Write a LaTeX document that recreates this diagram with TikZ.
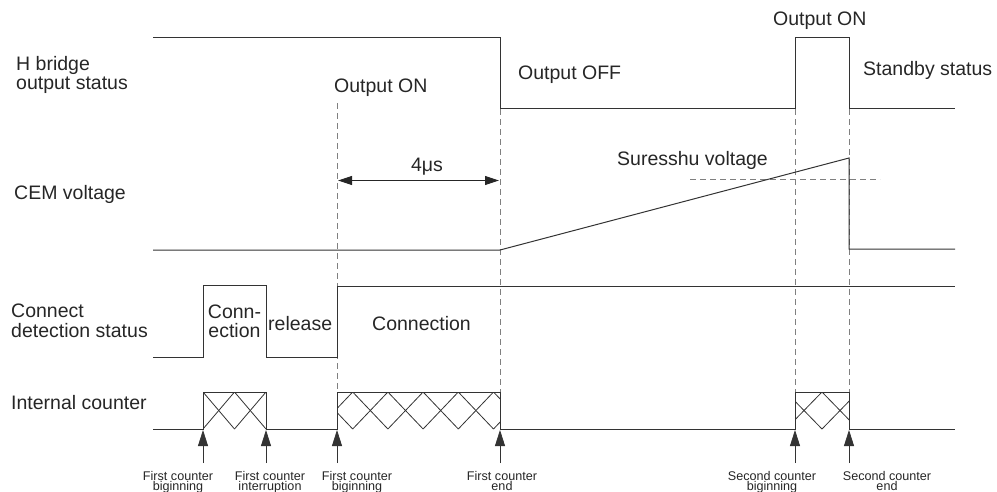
\documentclass[tikz,border=0pt]{standalone}
\usepackage{fontspec}
\setmainfont{Liberation Sans}
\usetikzlibrary{arrows.meta}
\newcommand{\xhatch}[4]{%
  \begin{scope}
    \clip (#1,392) rectangle (#2,429);
    \foreach \k in {-6,...,6}{
      \draw[hatch] ({#3+\k*#4},392) -- ({#3+(\k+1)*#4},429);
      \draw[hatch] ({#3+\k*#4},429) -- ({#3+(\k+1)*#4},392);
    }
  \end{scope}}
\begin{document}
\begin{tikzpicture}[x=1pt,y=-1pt,
  sig/.style={line width=1pt,draw=black!80,line join=miter},
  guide/.style={line width=0.9pt,draw=black!50,dash pattern=on 6pt off 4pt},
  hatch/.style={line width=0.8pt,draw=black!80},
  lbl/.style={inner sep=0pt,anchor=base west,font=\fontsize{19.5}{19.5}\selectfont,text=black!85},
  clbl/.style={lbl,anchor=base},
  small/.style={inner sep=0pt,anchor=north,align=center,font=\fontsize{12.6}{10.5}\selectfont,text=black!85},
  evt/.style={line width=0.8pt,draw=black!80,-{Triangle[length=16pt,width=10pt]}},
  dim/.style={line width=1pt,draw=black!85,{Triangle[length=14pt,width=9pt]}-{Triangle[length=14pt,width=9pt]}}
]
\useasboundingbox (0,0) rectangle (997,491);

% guides (dashed)
\draw[guide] (337,103) -- (337,392);
\draw[guide] (500,109) -- (500,392);
\draw[guide] (795,109) -- (795,392);
\draw[guide] (849,109) -- (849,392);
\draw[guide] (690,179) -- (880,179);

% H bridge output status
\draw[sig] (153,37) -- (500,37) -- (500,108) -- (795,108) -- (795,37) -- (849,37) -- (849,108) -- (955,108);

% CEM voltage
\draw[sig] (153,250) -- (500,250) -- (849,158) -- (849,249) -- (955,249);

% Connect detection status
\draw[sig] (153,357) -- (203,357) -- (203,285) -- (266,285) -- (266,357) -- (337,357) -- (337,286) -- (955,286);

% Internal counter hatching
\xhatch{203}{266}{234.5}{31.5}
\xhatch{337}{500}{352.7}{35.2}
\xhatch{795}{849}{822}{36}
\draw[sig] (153,429) -- (203,429) -- (203,392) -- (266,392) -- (266,429) -- (337,429) -- (337,392) -- (500,392) -- (500,429) -- (795,429) -- (795,392) -- (849,392) -- (849,429) -- (955,429);

% 4 us dimension
\coordinate (d1) at (338,180.5);
\coordinate (d2) at (499,180.5);
\draw[dim] (d1) -- (d2);
\node[clbl] (us) at (427,171) {4μs};

% event arrows
\foreach \n/\x in {e1/203,e2/266,e3/337,e4/500,e5/795,e6/849}{
  \coordinate (\n) at (\x,430);
  \coordinate (\n b) at (\x,463);
  \draw[evt] (\n b) -- (\n);
}

% labels
\node[lbl] (hb1) at (16,70) {H bridge};
\node[lbl] (hb2) at (16,89) {output status};
\node[lbl] (cem) at (14,199) {CEM voltage};
\node[lbl] (cd1) at (11,317) {Connect};
\node[lbl] (cd2) at (11,337) {detection status};
\node[lbl] (ic) at (11,409) {Internal counter};

\node[lbl] (on1) at (334,92) {Output ON};
\node[lbl] (off) at (518,79) {Output OFF};
\node[lbl] (on2) at (773,25) {Output ON};
\node[lbl] (stb) at (863,75) {Standby status};
\node[lbl] (sv) at (617,165) {Suresshu voltage};

\node[clbl] (cn1) at (234.5,318) {Conn-};
\node[clbl] (cn2) at (234.5,337) {ection};
\node[lbl] (rel) at (268,330) {release};
\node[lbl] (con) at (372,330) {Connection};

\node[small] (l1) at (178,471) {First counter\\biginning};
\node[small] (l2) at (270,471) {First counter\\interruption};
\node[small] (l3) at (357,471) {First counter\\biginning};
\node[small] (l4) at (502,471) {First counter\\end};
\node[small] (l5) at (772,471) {Second counter\\biginning};
\node[small] (l6) at (887,471) {Second counter\\end};
\end{tikzpicture}
\end{document}
